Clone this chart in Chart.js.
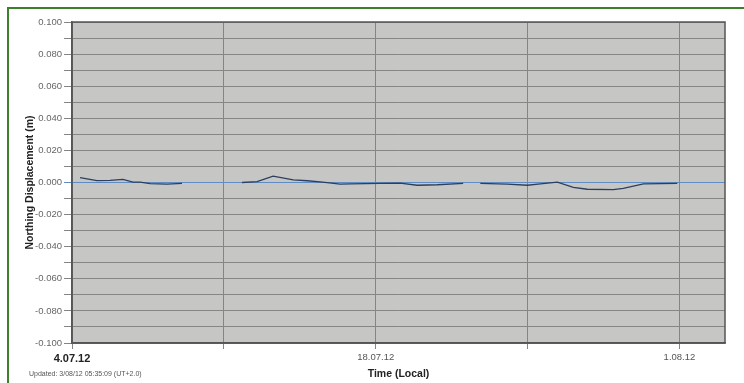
<!DOCTYPE html>
<html><head><meta charset="utf-8">
<script src="https://cdn.jsdelivr.net/npm/chart.js@4/dist/chart.umd.min.js"></script>
<style>
html,body{margin:0;padding:0;background:#fff;}
#wrap{position:relative;width:744px;height:383px;overflow:hidden;}
#c{position:absolute;left:0;top:0;}
#frameL{position:absolute;left:7px;top:7px;width:2px;height:376px;background:#3c7f2c;}
#frameT{position:absolute;left:7px;top:7px;width:737px;height:2px;background:#3c7f2c;}
#upd{position:absolute;left:29px;top:370px;font:7px "Liberation Sans",Arial,sans-serif;color:#555;white-space:nowrap;}
</style></head>
<body><div id="wrap"><canvas id="c" width="744" height="383"></canvas>
<div id="frameL"></div><div id="frameT"></div>
<div id="upd">Updated: 3/08/12 05:35:09 (UT+2.0)</div></div>
<script>
// days since 4.07.12 00:00 (local)
const dayOffsets = [0.37,1.15,1.75,2.35,2.81,3.14,3.6,4.38,5.07,5.5,7.5,7.84,8.53,9.27,10.2,10.84,11.44,11.76,12.36,12.82,14.2,15.13,15.91,16.84,18.03,18.4,18.82,20.06,20.99,21.59,22.37,23.11,23.75,24.95,25.41,26.34,27.9];
const northing = [0.003,0.0012,0.0013,0.002,0.0002,0.0002,-0.0007,-0.001,-0.0005,null,null,0.0,0.0006,0.004,0.0016,0.0011,0.0004,-0.0001,-0.001,-0.0009,-0.0005,-0.0004,-0.0017,-0.0014,-0.0006,null,-0.0006,-0.001,-0.0017,-0.0009,0.0002,-0.003,-0.0042,-0.0045,-0.0037,-0.0009,-0.0005];
const xTickDays = [0,7,14,21,28];
const xTickLabels = {0:'4.07.12',14:'18.07.12',28:'1.08.12'};
const yTicks = [-0.1,-0.09,-0.08,-0.07,-0.06,-0.05,-0.04,-0.03,-0.02,-0.01,0,0.01,0.02,0.03,0.04,0.05,0.06,0.07,0.08,0.09,0.1];
const xMax = 30.1;

const pts = dayOffsets.map((d,i)=>({x:d,y:northing[i]}));

const plotBg = {
  id:'plotBg',
  beforeDraw(ch){
    const a=ch.chartArea,c=ch.ctx;
    c.save();c.fillStyle='#c6c6c4';c.fillRect(a.left,a.top,a.right-a.left,a.bottom-a.top);c.restore();
  },
  afterDatasetsDraw(ch){
    const a=ch.chartArea,c=ch.ctx;
    c.save();c.strokeStyle='#555';c.lineWidth=1.5;
    c.strokeRect(a.left,a.top,a.right-a.left,a.bottom-a.top);c.restore();
  }
};

new Chart(document.getElementById('c'),{
  type:'line',
  data:{datasets:[{data:pts,borderColor:'#2c3f5e',borderWidth:1.3,pointRadius:0,tension:0,spanGaps:false}]},
  options:{
    responsive:false,animation:false,
    layout:{padding:{left:24,top:22,right:19,bottom:0}},
    plugins:{legend:{display:false},tooltip:{enabled:false}},
    scales:{
      x:{type:'linear',min:0,max:xMax,
        afterBuildTicks(s){s.ticks=xTickDays.map(v=>({value:v}));},
        afterFit(s){s.height=40;},
        grid:{color:'#858585',lineWidth:1,tickLength:6,drawOnChartArea:true},
        border:{display:true,color:'#555',width:1.5},
        ticks:{autoSkip:false,maxRotation:0,padding:3,
          callback:(v)=>xTickLabels[v]||'',
          color:(c)=>c.index===0?'#222':'#555',
          font:(c)=>c.index===0?{family:'Liberation Sans, Arial',size:11,weight:'bold'}:{family:'Liberation Sans, Arial',size:9.5}},
        title:{display:true,text:'Time (Local)',color:'#222',font:{family:'Liberation Sans, Arial',size:10.5,weight:'bold'},padding:{top:0,bottom:3}}
      },
      y:{type:'linear',min:-0.1,max:0.1,
        afterBuildTicks(s){s.ticks=yTicks.map(v=>({value:v}));},
        afterFit(s){s.width=48;},
        grid:{color:(c)=>Math.abs(c.tick.value)<1e-9?'#5f8cc4':'#858585',lineWidth:1,tickLength:8},
        border:{display:true,color:'#555',width:1.5},
        ticks:{autoSkip:false,padding:2,color:'#666',font:{family:'Liberation Sans, Arial',size:9.5},
          callback:(v)=>{const r=Math.round(v*1000);return (r%20===0)?(v<-1e-9?'-':'')+Math.abs(v).toFixed(3):'';}},
        title:{display:true,text:'Northing Displacement (m)',color:'#222',font:{family:'Liberation Sans, Arial',size:10.5,weight:'bold'},padding:{top:0,bottom:0}}
      }
    }
  },
  plugins:[plotBg]
});
</script></body></html>
